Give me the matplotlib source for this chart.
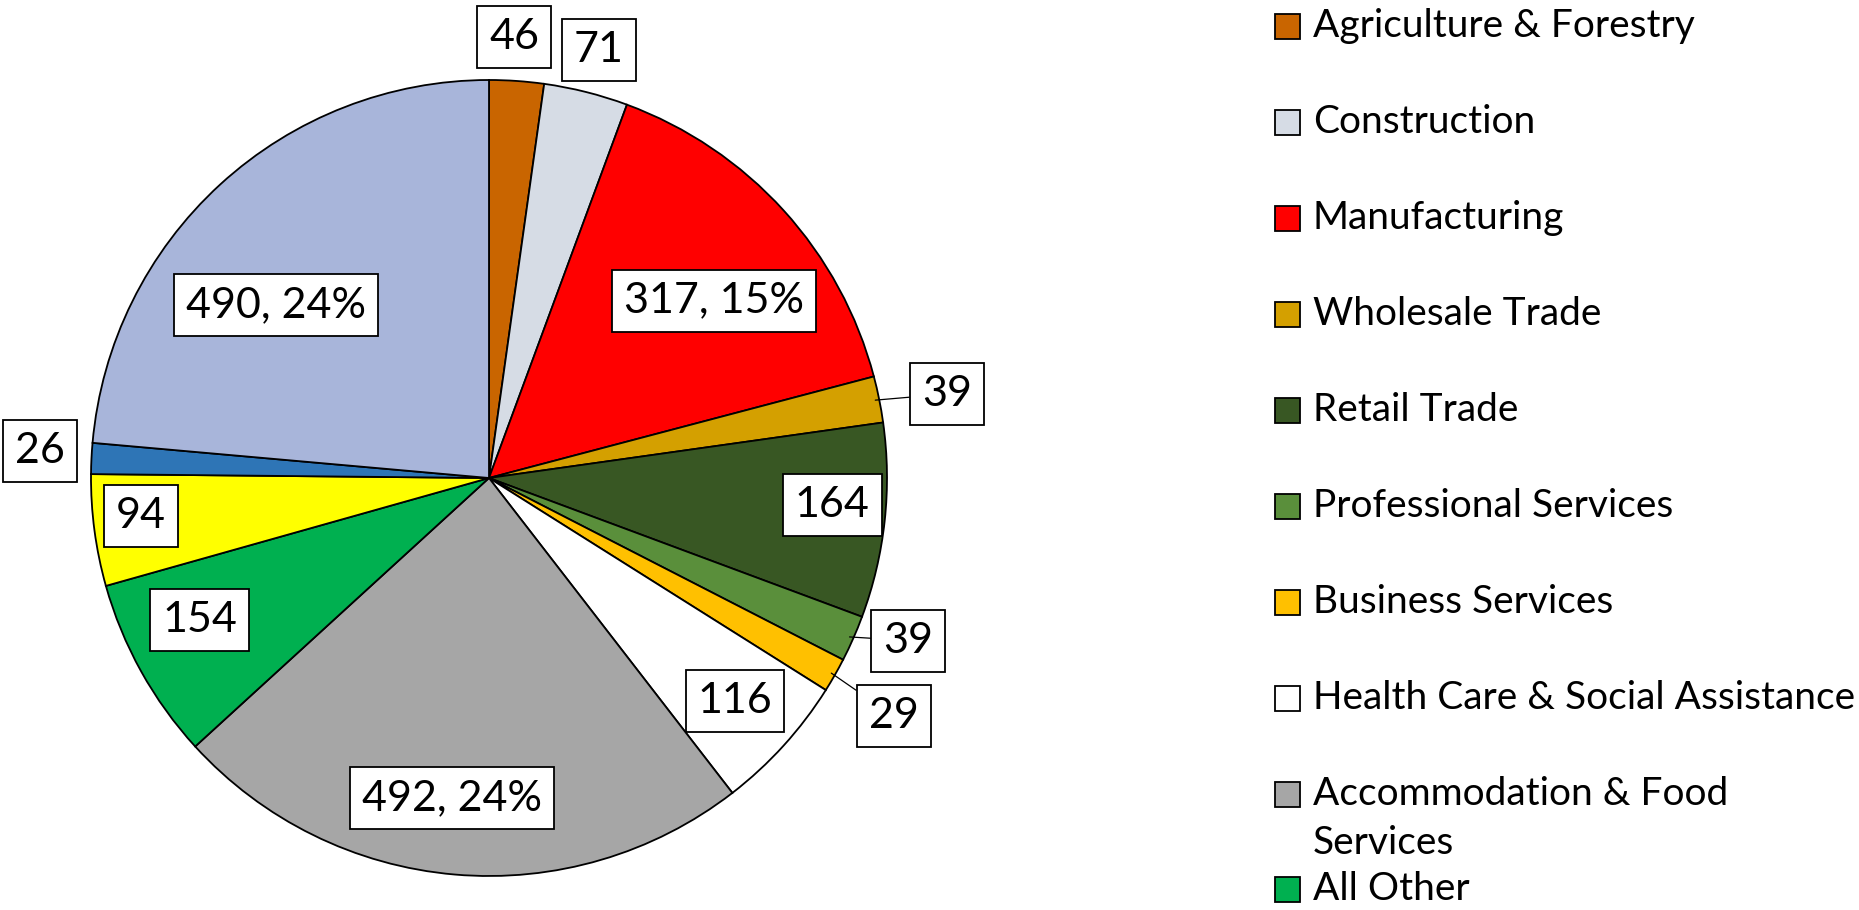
#!/usr/bin/env python3

import matplotlib

matplotlib.use("Agg")
import matplotlib.pyplot as plt
from matplotlib.patches import Rectangle
import numpy as np

plt.rcParams["font.family"] = ["Lato", "DejaVu Sans"]

# slices, clockwise from 12 o'clock
categories = [
    "Agriculture & Forestry",
    "Construction",
    "Manufacturing",
    "Wholesale Trade",
    "Retail Trade",
    "Professional Services",
    "Business Services",
    "Health Care & Social Assistance",
    "Accommodation & Food\nServices",
    "All Other",
    "Other (yellow)",
    "Other (blue)",
    "Other (light blue)",
]
values = [46, 71, 317, 39, 164, 39, 29, 116, 492, 154, 94, 26, 490]
colors = [
    "#C96500", "#D6DCE5", "#FF0000", "#D4A000", "#385723", "#5A8F3B",
    "#FFC000", "#FFFFFF", "#A6A6A6", "#00B050", "#FFFF00", "#2E75B6",
    "#A8B5DA",
]
n_legend = 10  # the rest of the legend is cut off at the bottom

# label placement (radius as fraction of the pie, angle nudge in degrees)
label_r = [1.11, 1.11, 0.72, 1.17, 0.865, 1.13, 1.18, 0.835, 0.81, 0.81, 0.88, 1.13, 0.69]
label_da = [-0.7, 0.3, 4.0, 1.0, -1.7, -2.6, 0.8, 0.0, 1.7, 3.0, 1.4, 0.6, -8.5]
leaders = {3, 5, 6}

W, H = 1859, 910
CX, CY, R = 489, 432, 398  # pie centre (px from bottom-left) and radius

fig = plt.figure(figsize=(W / 100, H / 100), dpi=100)
ax = fig.add_axes([0, 0, 1, 1])

ax.pie(
    values,
    colors=colors,
    startangle=90,
    counterclock=False,
    radius=1,
    wedgeprops=dict(edgecolor="black", linewidth=1.3),
)
ax.set_xlim(-CX / R, (W - CX) / R)
ax.set_ylim(-CY / R, (H - CY) / R)
ax.set_aspect("auto")
ax.axis("off")

total = sum(values)
start = 0.0
for i, v in enumerate(values):
    span = v / total * 360
    mid = start + span / 2
    start += span
    pct = v / total * 100
    text = f"{v}, {pct:.0f}%" if pct >= 10 else f"{v}"
    ang = np.radians(mid + label_da[i])
    x, y = label_r[i] * np.sin(ang), label_r[i] * np.cos(ang)
    if i in leaders:
        a0 = np.radians(mid)
        kw = dict(
            xy=(0.99 * np.sin(a0), 0.99 * np.cos(a0)),
            arrowprops=dict(arrowstyle="-", color="black", lw=0.9,
                            shrinkA=0, shrinkB=0),
        )
    else:
        kw = dict(xy=(x, y))
    ax.annotate(
        text, xytext=(x, y), ha="center", va="center", fontsize=31,
        bbox=dict(boxstyle="square,pad=0.28", fc="white", ec="black", lw=1.3),
        **kw,
    )

# legend, drawn by hand so it can be clipped like the original
row_y = [26, 122, 218, 314, 410, 506, 602, 698, 794, 889]
for i in range(n_legend):
    py = H - row_y[i]
    fig.patches.append(
        Rectangle((1275 / W, (py - 13) / H), 25 / W, 25 / H,
                  transform=fig.transFigure, fc=colors[i], ec="black", lw=1.3)
    )
    fig.text(1313 / W, (py + 18) / H, categories[i], ha="left", va="top",
             fontsize=28, linespacing=1.45)

fig.savefig("out.png", dpi=100)
